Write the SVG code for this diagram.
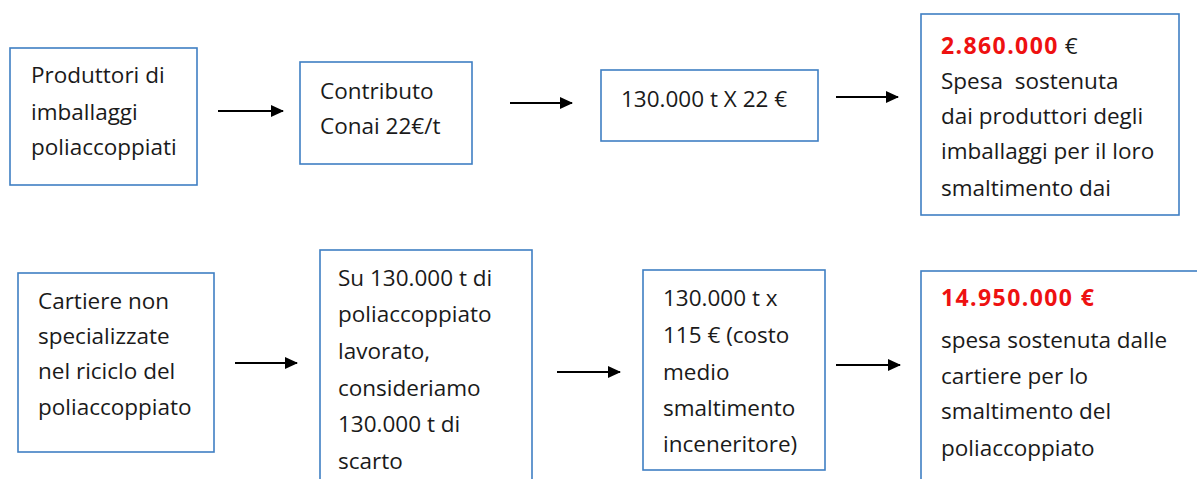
<svg xmlns="http://www.w3.org/2000/svg" width="1197" height="479" viewBox="0 0 1197 479">
<style>
.box{fill:#fff;stroke:#3f7fc3;stroke-width:1.6}
.t{font-family:"Open Sans","Liberation Sans",sans-serif;font-size:22.5px;fill:#1a1a1a}
.r{font-family:"Open Sans","Liberation Sans",sans-serif;font-size:23px;font-weight:bold;fill:#ee1111;letter-spacing:1.4px}
.c{stroke:#000;stroke-width:2.2;fill:none;marker-end:url(#ah)}
</style>
<defs>
<marker id="ah" markerWidth="14" markerHeight="14" refX="12" refY="6" orient="auto" markerUnits="userSpaceOnUse">
<path d="M0,0 L13,6 L0,12 Z" fill="#000"/>
</marker>
</defs>
<rect width="1197" height="479" fill="#fff"/>
<g id="connectors">
<line class="c" x1="218" y1="111" x2="283" y2="111"/>
<line class="c" x1="510" y1="103" x2="572" y2="103"/>
<line class="c" x1="836" y1="97" x2="898" y2="97"/>
<line class="c" x1="235" y1="363" x2="297" y2="363"/>
<line class="c" x1="557" y1="372" x2="620" y2="372"/>
<line class="c" x1="836" y1="365" x2="900" y2="365"/>
</g>
<g id="n1">
<rect class="box" x="10" y="48" width="187" height="137"/>
<text class="t" x="31" y="83">Produttori di</text>
<text class="t" x="31" y="120">imballaggi</text>
<text class="t" x="31" y="155">poliaccoppiati</text>
</g>
<g id="n2">
<rect class="box" x="300" y="62" width="172" height="102"/>
<text class="t" x="320" y="99">Contributo</text>
<text class="t" x="320" y="134">Conai 22€/t</text>
</g>
<g id="n3">
<rect class="box" x="601" y="70" width="217" height="71"/>
<text class="t" x="621" y="107">130.000 t X 22 €</text>
</g>
<g id="n4">
<rect class="box" x="921" y="14" width="258" height="201"/>
<text x="941" y="54"><tspan class="r">2.860.000</tspan><tspan class="t"> €</tspan></text>
<text class="t" x="941" y="89" xml:space="preserve">Spesa  sostenuta</text>
<text class="t" x="941" y="124">dai produttori degli</text>
<text class="t" x="941" y="159">imballaggi per il loro</text>
<text class="t" x="941" y="196">smaltimento dai</text>
</g>
<g id="n5">
<rect class="box" x="18" y="273" width="196" height="179"/>
<text class="t" x="38" y="309">Cartiere non</text>
<text class="t" x="38" y="344">specializzate</text>
<text class="t" x="38" y="379">nel riciclo del</text>
<text class="t" x="38" y="415">poliaccoppiato</text>
</g>
<g id="n6">
<rect class="box" x="320" y="250" width="212" height="240"/>
<text class="t" x="338" y="286">Su 130.000 t di</text>
<text class="t" x="338" y="322">poliaccoppiato</text>
<text class="t" x="338" y="359">lavorato,</text>
<text class="t" x="338" y="396">consideriamo</text>
<text class="t" x="338" y="432">130.000 t di</text>
<text class="t" x="338" y="469">scarto</text>
</g>
<g id="n7">
<rect class="box" x="643" y="270" width="182" height="200"/>
<text class="t" x="663" y="306">130.000 t x</text>
<text class="t" x="663" y="343">115 € (costo</text>
<text class="t" x="663" y="380">medio</text>
<text class="t" x="663" y="416">smaltimento</text>
<text class="t" x="663" y="452">inceneritore)</text>
</g>
<g id="n8">
<rect class="box" x="921" y="271" width="290" height="230"/>
<text class="r" x="941" y="306">14.950.000 €</text>
<text class="t" x="941" y="348">spesa sostenuta dalle</text>
<text class="t" x="941" y="384">cartiere per lo</text>
<text class="t" x="941" y="419">smaltimento del</text>
<text class="t" x="941" y="456">poliaccoppiato</text>
</g>
</svg>
